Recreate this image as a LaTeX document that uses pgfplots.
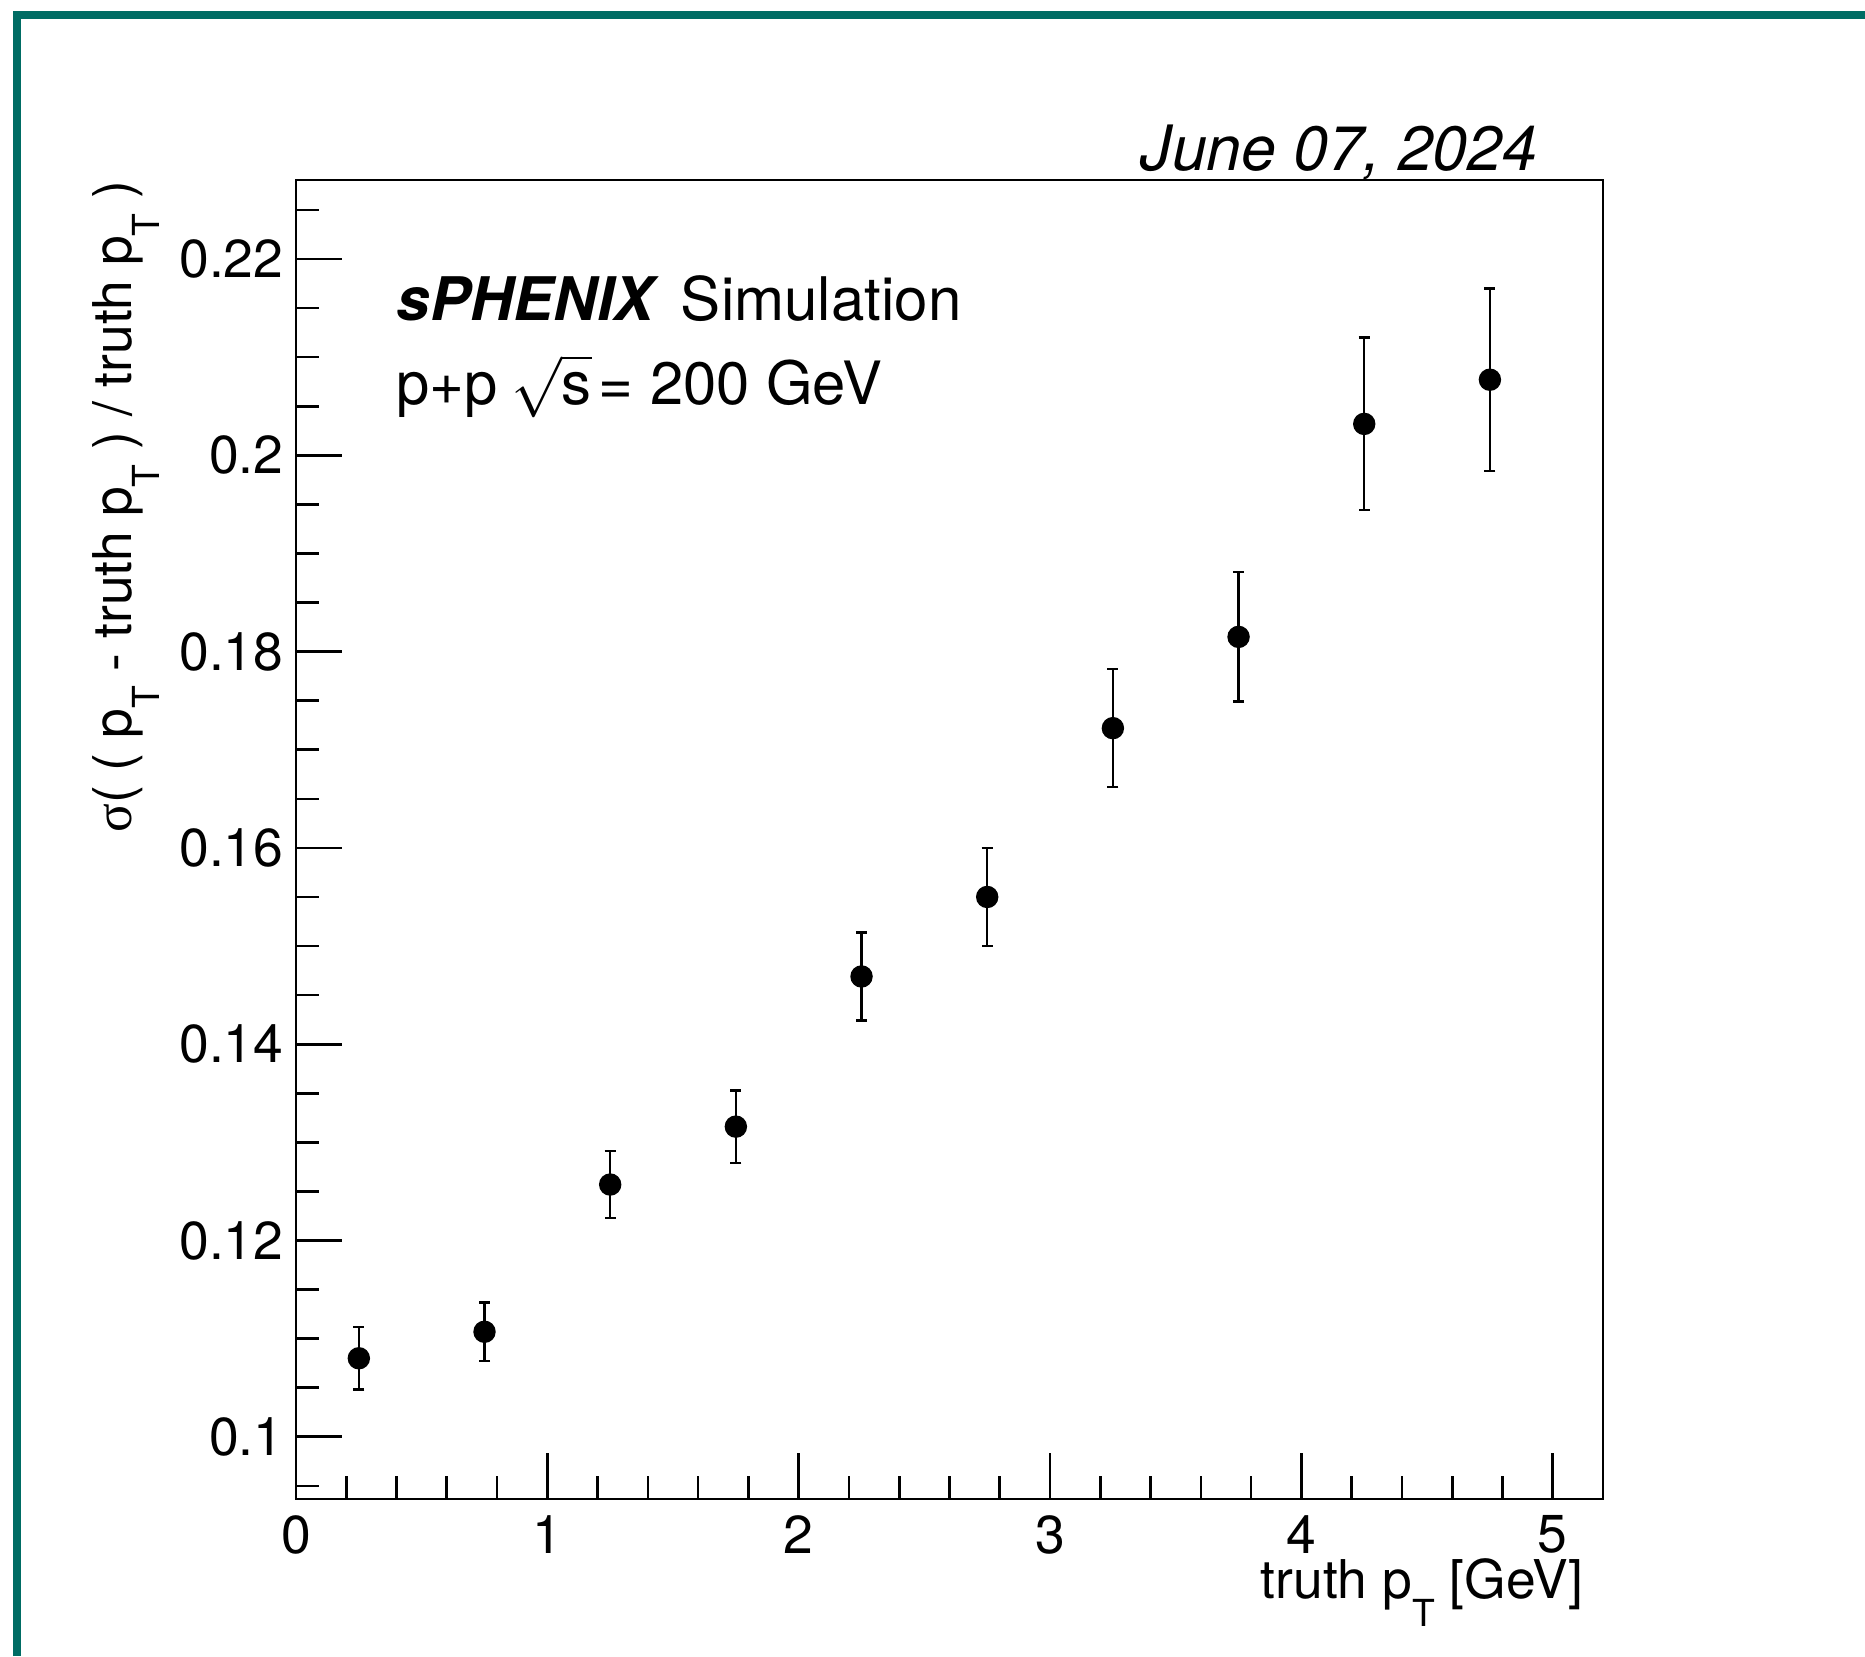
\documentclass[border=0pt]{standalone}
\usepackage{pgfplots}
\pgfplotsset{compat=1.18}
\usepackage{fontspec}
\setmainfont{TeX Gyre Heros}
\newfontfamily\symfont{Liberation Serif}
\definecolor{frameteal}{RGB}{0,108,100}
% ROOT-like subscript: smaller and dropped well below the baseline
\newcommand{\sub}[1]{\raisebox{-0.54em}{\fontsize{10.6}{12}\selectfont #1}}
\newcommand{\labfont}{\fontsize{15.2}{18}\selectfont}

\pgfplotstableread{
x     y       e
0.25  0.1080  0.0032
0.75  0.1107  0.0030
1.25  0.1257  0.0034
1.75  0.1316  0.0037
2.25  0.1469  0.0045
2.75  0.1550  0.0050
3.25  0.1722  0.0060
3.75  0.1815  0.0066
4.25  0.2032  0.0088
4.75  0.2077  0.0093
}\restable

\begin{document}
\begin{tikzpicture}
\useasboundingbox (0,0) rectangle (18.65cm,16.56cm);
% outer frame (top and left edges only are visible)
\draw[frameteal, line width=0.8mm] (0.17cm,0) -- (0.17cm,16.41cm) -- (18.65cm,16.41cm);

\begin{axis}[
    at={(2.96cm,1.57cm)}, anchor=south west,
    width=13.07cm, height=13.19cm, scale only axis,
    xmin=0, xmax=5.2,
    ymin=0.09366, ymax=0.22805,
    xtick={0,1,2,3,4,5},
    ytick={0.1,0.12,0.14,0.16,0.18,0.2,0.22},
    minor xtick={0.2,0.4,0.6,0.8,1.2,1.4,1.6,1.8,2.2,2.4,2.6,2.8,3.2,3.4,3.6,3.8,4.2,4.4,4.6,4.8,5.2},
    minor ytick={0.095,0.105,0.11,0.115,0.125,0.13,0.135,0.145,0.15,0.155,0.165,0.17,0.175,0.185,0.19,0.195,0.205,0.21,0.215,0.225},
    tick align=inside,
    xtick pos=left, ytick pos=left,
    major tick length=0.46cm, minor tick length=0.23cm,
    tick style={black, line width=0.75pt},
    axis line style={line width=0.75pt},
    /pgf/number format/assume math mode=true,
    yticklabel style={/pgf/number format/fixed, /pgf/number format/precision=2,
        font=\labfont, inner sep=0pt, anchor=east, xshift=-0.12cm},
    xticklabel style={font=\labfont, inner sep=0pt, anchor=north, yshift=-0.16cm},
]
\addplot[only marks, mark=*, mark size=1.05mm, black,
    error bars/.cd, y dir=both, y explicit,
    error bar style={line width=0.7pt},
    error mark options={rotate=90, line width=0.7pt, mark size=0.55mm}]
    table[x=x, y=y, y error=e] {\restable};
\end{axis}

% axis titles
\node[anchor=base east, inner sep=0pt, font=\labfont] at (15.84cm,0.58cm)
    {truth p\sub{T} [GeV]};
\node[anchor=base east, inner sep=0pt, rotate=90, font=\labfont] at (1.31cm,14.76cm)
    {{\symfont σ}( ( p\sub{T} - truth p\sub{T} ) / truth p\sub{T} )};

% annotations
\node[anchor=base east, inner sep=0pt, font=\fontsize{17.8}{20}\selectfont\itshape]
    at (15.38cm,14.85cm) {June 07, 2024};
\node[anchor=base west, inner sep=0pt, font=\fontsize{17.1}{20}\selectfont]
    at (3.96cm,13.35cm) {{\bfseries\itshape sPHENIX}\hspace{0.45em}Simulation};
\node[anchor=base west, inner sep=0pt, font=\fontsize{17}{20}\selectfont]
    at (3.96cm,12.51cm) {p+p\hspace{0.22em}$\sqrt{\mbox{s}}$\hspace{-0.16em} = 200 GeV};
\end{tikzpicture}
\end{document}
